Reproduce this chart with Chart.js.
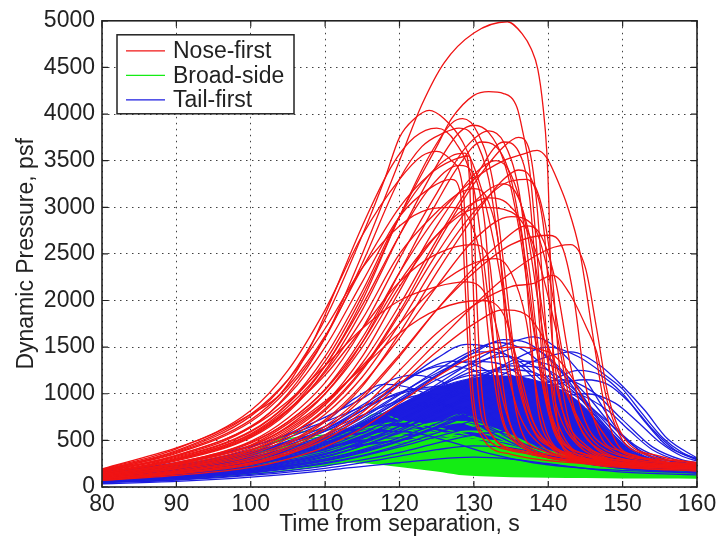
<!DOCTYPE html>
<html><head><meta charset="utf-8">
<script src="https://cdn.jsdelivr.net/npm/chart.js@4/dist/chart.umd.min.js"></script>
<style>html,body{margin:0;padding:0;background:#fff}#wrap{width:728px;height:540px}</style>
</head><body><div id="wrap"><canvas id="c" width="728" height="540"></canvas></div>
<script>
const xTicks = [80, 90, 100, 110, 120, 130, 140, 150, 160];
const yTicks = [0, 500, 1000, 1500, 2000, 2500, 3000, 3500, 4000, 4500, 5000];
const legendLabels = ['Nose-first', 'Broad-side', 'Tail-first'];
const xTitle = 'Time from separation, s';
const yTitle = 'Dynamic Pressure, psf';

// Nose-first trajectories: [time s, dynamic pressure psf]
const noseFirst = [
 [[80,170],[90,330],[100,640],[105,1000],[110,1600],[115,2500],[120,3500],[123,4100],[126,4550],[130,4870],[134.5,4990],[136.5,4860],[137.7,4700],[138.6,4480],[139.3,4080],[139.8,3600],[140.1,3000],[140.4,2000],[140.8,1100],[141.5,560],[142.8,350],[145,260],[150,210],[160,180]],
 [[80,150],[90,290],[100,540],[105,820],[110,1300],[115,2000],[120,2900],[125,3650],[127,3950],[130,4200],[132,4240],[134,4220],[135.8,4070],[136.6,3800],[137.5,3400],[138.5,2500],[139.5,1300],[141,600],[145,300],[150,220],[160,170]],
 [[80,185],[90,380],[100,760],[105,1150],[110,1800],[115,2700],[118,3300],[120,3750],[122,3950],[124,4040],[126,3950],[128.5,3700],[131,3200],[133,2500],[135,1600],[137,900],[140,450],[145,280],[150,230],[160,190]],
 [[80,130],[90,260],[100,480],[105,700],[110,1050],[115,1600],[120,2300],[125,2900],[130,3300],[134,3500],[136.6,3570],[138.5,3610],[139.8,3530],[141.6,3220],[142.5,3030],[144.2,2540],[146.3,1470],[147.5,900],[149,500],[152,330],[160,240]],
 [[80,140],[90,280],[100,530],[105,800],[110,1250],[115,1900],[120,2700],[125,3450],[128,3800],[130,3880],[132,3800],[134,3500],[136,2800],[138,1700],[140,800],[143,400],[150,250],[160,200]],
 [[80,175],[90,360],[100,700],[105,1050],[110,1600],[115,2400],[120,3300],[123,3650],[126,3800],[128,3850],[130,3750],[132,3300],[133.5,2500],[135,1500],[137,800],[140,450],[150,260],[160,210]],
 [[80,120],[90,240],[100,440],[105,650],[110,1000],[115,1550],[120,2300],[125,3050],[128,3450],[131,3700],[133,3650],[135,3300],[137,2400],[139,1200],[141,600],[145,350],[150,250],[160,200]],
 [[80,160],[90,320],[100,600],[105,900],[110,1400],[115,2100],[120,2900],[124,3350],[127,3550],[128.8,3580],[129.4,3300],[129.8,2400],[130.4,1200],[132,600],[137,380],[145,260],[160,190]],
 [[80,110],[90,220],[100,400],[105,600],[110,900],[115,1400],[120,2100],[125,2800],[130,3350],[133,3500],[135,3350],[137,2800],[139,1800],[141,900],[144,450],[150,280],[160,210]],
 [[80,165],[90,340],[100,650],[105,980],[110,1500],[115,2200],[120,2900],[124,3200],[127,3300],[128.2,3150],[128.8,2200],[129.5,1100],[131,550],[135,350],[145,250],[160,200]],
 [[80,100],[90,200],[100,370],[105,550],[110,820],[115,1250],[120,1850],[125,2500],[130,3050],[134,3250],[136,3100],[138,2500],[140,1500],[142,800],[145,450],[150,300],[160,220]],
 [[80,120],[90,250],[100,450],[105,680],[110,1000],[115,1500],[120,2150],[125,2700],[129,3000],[132,3100],[135,3000],[136.5,2700],[137.5,1800],[138.5,900],[140,500],[145,300],[160,200]],
 [[80,180],[90,390],[100,780],[105,1150],[110,1700],[115,2350],[120,2800],[124,2980],[127,3000],[129.5,2850],[131,2400],[132,1600],[133.5,800],[136,450],[145,280],[160,210]],
 [[80,90],[90,180],[100,330],[105,480],[110,720],[115,1100],[120,1600],[125,2150],[130,2650],[135,2900],[138,2800],[140,2300],[142,1400],[144,700],[147,400],[155,260],[160,230]],
 [[80,145],[90,300],[100,560],[105,830],[110,1200],[115,1700],[120,2200],[125,2500],[130,2600],[132,2450],[133,1700],[134.5,800],[137,420],[145,270],[160,200]],
 [[80,85],[90,170],[100,310],[105,460],[110,700],[115,1080],[120,1650],[125,2300],[130,2900],[134,3300],[136,3400],[138,3250],[139.5,2700],[140.5,1600],[142,800],[145,420],[150,280],[160,220]],
 [[80,75],[90,150],[100,260],[105,380],[110,560],[115,850],[120,1250],[125,1650],[130,1950],[135,2150],[137.9,2180],[140.6,2270],[142.9,2070],[145.2,1700],[146.5,1450],[148,900],[150,500],[153,350],[160,250]],
 [[80,130],[90,260],[100,490],[105,740],[110,1120],[115,1700],[120,2450],[125,3150],[129,3650],[132,3820],[134,3700],[136,3200],[137.5,2300],[139,1300],[141,650],[145,350],[160,200]],
 [[80,190],[90,410],[100,820],[105,1250],[110,1900],[115,2700],[120,3300],[123,3550],[125,3600],[127,3500],[128.6,3150],[129.2,2100],[129.9,1000],[131.5,550],[136,380],[145,260],[160,200]],
 [[80,140],[90,290],[100,550],[105,820],[110,1230],[115,1800],[120,2500],[125,2950],[128,3150],[130,3200],[132,3050],[133.5,2500],[134.5,1500],[136,700],[139,400],[150,260],[160,200]],
 [[80,80],[90,160],[100,280],[105,410],[110,620],[115,950],[120,1400],[125,1900],[130,2350],[134,2650],[137,2800],[139,2700],[141,2200],[143,1300],[145,700],[148,420],[155,280],[160,240]],
 [[80,110],[90,230],[100,420],[105,620],[110,900],[115,1300],[120,1750],[125,2150],[130,2400],[133,2450],[135,2300],[137,1800],[138.5,1000],[140,550],[143,350],[150,260],[160,210]],
 [[80,150],[90,310],[100,590],[105,890],[110,1350],[115,2050],[120,2900],[124,3550],[127,3900],[128.5,3950],[130.5,3800],[132.5,3300],[134,2400],[135.5,1400],[137.5,700],[141,400],[150,250],[160,200]],
 [[80,100],[90,195],[100,350],[105,520],[110,780],[115,1180],[120,1750],[125,2400],[130,2950],[134,3250],[137,3300],[139,3050],[140.5,2300],[141.5,1300],[143,650],[146,380],[152,270],[160,220]],
 [[80,165],[90,340],[100,640],[105,920],[110,1300],[115,1700],[120,2000],[125,2150],[129,2200],[132,2000],[134,1400],[136,800],[139,450],[145,290],[160,210]],
 [[80,105],[90,210],[100,390],[105,580],[110,880],[115,1330],[120,1950],[125,2650],[130,3300],[134,3700],[136,3600],[137.5,3100],[138.5,2100],[139.5,1100],[141,550],[145,330],[160,200]],
 [[80,72],[90,140],[100,240],[105,350],[110,510],[115,760],[120,1100],[125,1450],[130,1750],[134,1900],[137,1850],[140,1500],[143,900],[146,500],[150,330],[160,240]],
 [[80,195],[90,420],[95,570],[100,780],[104,1000],[108,1500],[110,1850],[115,2800],[119,3450],[122,3750],[125,3850],[127.5,3700],[130,3200],[131.5,2300],[133,1300],[135,650],[138,400],[145,270],[160,210]],
 [[80,85],[90,165],[100,290],[105,430],[110,650],[115,980],[120,1420],[125,1900],[130,2300],[135,2600],[140,2700],[142,2550],[143.5,2000],[145,1100],[147,550],[150,380],[160,260]],
 [[80,140],[90,300],[100,570],[105,860],[110,1300],[115,1950],[120,2700],[124,3200],[128,3450],[130,3350],[131.5,2800],[132.5,1700],[133.5,900],[135.5,500],[140,350],[150,240],[160,190]],
 [[80,70],[90,125],[100,210],[105,300],[110,430],[115,630],[120,900],[125,1180],[130,1400],[135,1500],[140,1450],[143,1200],[146,750],[149,420],[153,300],[160,230]],
 [[80,120],[90,245],[100,440],[105,640],[110,920],[115,1280],[120,1650],[125,1900],[131,2000],[134,1850],[136,1300],[138,700],[141,420],[148,280],[160,210]],
 [[80,125],[90,255],[100,470],[105,700],[110,1040],[115,1550],[120,2200],[125,2700],[131,3000],[135,2950],[138,2600],[141,1700],[143,900],[146,450],[150,300],[160,220]],
 [[80,170],[90,370],[100,720],[105,1080],[110,1620],[115,2350],[120,3000],[124,3350],[127,3500],[129.3,3550],[129.9,3200],[130.3,2200],[131,1100],[132.5,550],[137,360],[145,250],[160,200]],
 [[80,75],[90,145],[100,250],[105,360],[110,540],[115,800],[120,1150],[125,1550],[130,1950],[135,2300],[140,2550],[143,2600],[145,2350],[146.5,1700],[148,1000],[150,550],[155,330],[160,260]],
 [[80,100],[90,200],[100,370],[105,550],[110,840],[115,1270],[120,1880],[125,2600],[130,3250],[134,3650],[136,3750],[137.5,3600],[138.5,3000],[139.5,1900],[140.5,1000],[142,550],[146,330],[160,210]]
];

// Tail-first trajectories
const tailFirst = [
 [[80,90],[90,150],[100,260],[110,450],[115,620],[120,850],[125,1100],[130,1350],[135,1550],[138,1610],[141,1500],[145,1150],[149,650],[153,350],[157,250],[160,220]],
 [[80,120],[90,200],[100,340],[110,600],[115,820],[120,1100],[125,1380],[129,1530],[133,1480],[137,1250],[141,900],[145,550],[150,300],[155,220],[160,190]],
 [[80,75],[90,120],[100,200],[110,350],[115,480],[120,650],[125,870],[130,1120],[135,1350],[140,1500],[144,1400],[148,1180],[150,1050],[152.5,800],[155.5,520],[158,370],[160,300]],
 [[80,70],[90,110],[100,185],[110,320],[115,440],[120,600],[125,800],[130,1030],[135,1250],[140,1400],[143,1450],[147,1300],[150,1080],[153,820],[156,520],[160,310]],
 [[80,100],[90,170],[100,290],[110,510],[115,690],[120,920],[125,1150],[130,1330],[134,1400],[138,1300],[142,1000],[146,650],[150,380],[155,250],[160,210]],
 [[80,110],[90,180],[100,310],[110,540],[115,740],[120,990],[125,1250],[130,1470],[133,1550],[136,1500],[140,1250],[144,850],[148,480],[152,300],[160,200]],
 [[80,130],[90,215],[100,370],[110,650],[115,880],[120,1120],[126,1300],[130,1250],[135,1000],[140,650],[145,380],[150,260],[160,190]],
 [[80,95],[90,160],[100,270],[110,470],[115,640],[120,850],[125,1060],[131,1250],[135,1200],[140,950],[145,600],[150,350],[155,240],[160,200]],
 [[80,80],[90,130],[100,220],[110,380],[115,520],[120,700],[125,920],[130,1130],[137,1350],[141,1280],[145,1000],[149,620],[153,360],[160,230]],
 [[80,150],[90,250],[100,430],[105,570],[110,750],[115,950],[119,1150],[122,1200],[126,1120],[130,900],[135,600],[140,380],[145,260],[150,200],[160,170]],
 [[80,140],[90,230],[100,400],[105,530],[110,700],[114,950],[118,1100],[122,1050],[127,850],[132,600],[138,380],[145,250],[160,170]],
 [[80,60],[90,95],[100,155],[110,260],[115,340],[120,450],[125,580],[130,720],[135,850],[140,950],[145,1000],[149,900],[152,700],[155,480],[158,330],[160,280]],
 [[80,65],[90,100],[100,165],[110,280],[115,370],[120,490],[125,630],[130,790],[135,950],[140,1080],[145,1150],[148,1100],[151,900],[154,620],[157,400],[160,290]],
 [[80,105],[90,175],[100,300],[110,520],[115,710],[120,950],[125,1200],[131,1450],[135,1400],[139,1150],[143,780],[147,450],[151,290],[160,200]],
 [[80,85],[90,140],[100,240],[110,410],[115,550],[120,720],[125,900],[130,1060],[135,1170],[139,1200],[143,1050],[147,700],[151,400],[155,260],[160,210]],
 [[80,120],[90,190],[100,320],[110,530],[115,680],[120,830],[123,900],[127,850],[132,650],[137,430],[142,300],[150,220],[160,170]],
 [[80,125],[90,205],[100,355],[110,620],[115,850],[120,1100],[124,1280],[127,1350],[131,1280],[135,1050],[140,700],[145,420],[150,270],[160,190]],
 [[80,75],[90,125],[100,210],[110,360],[115,490],[120,650],[125,820],[130,980],[135,1100],[139,1050],[143,820],[147,520],[151,320],[160,210]],
 [[80,70],[90,110],[100,180],[110,300],[115,390],[120,500],[125,650],[130,800],[134,780],[138,620],[142,420],[147,280],[152,210],[160,170]],
 [[80,95],[90,155],[100,265],[110,460],[115,630],[120,840],[125,1070],[130,1300],[133,1420],[136,1500],[139,1450],[143,1150],[147,720],[151,400],[155,260],[160,210]],
 [[80,35],[90,60],[100,105],[110,175],[113,205],[120,260],[125,300],[130,320],[135,300],[140,250],[145,200],[150,160],[160,130]],
 [[80,45],[90,75],[100,125],[110,200],[115,260],[120,330],[125,400],[130,440],[135,420],[140,340],[145,260],[150,200],[160,150]],
 [[80,90],[90,150],[100,250],[105,320],[110,410],[115,530],[118,600],[122,580],[127,480],[132,360],[138,260],[145,200],[160,150]],
 [[80,110],[90,180],[100,300],[105,380],[110,480],[115,640],[120,800],[124,880],[128,860],[133,720],[138,520],[143,350],[148,250],[160,180]],
 [[80,100],[90,165],[100,285],[110,500],[115,690],[120,930],[125,1190],[130,1440],[134,1580],[137,1550],[141,1300],[145,900],[149,520],[153,320],[160,210]],
 [[80,70],[90,115],[100,190],[110,330],[115,440],[120,580],[125,740],[130,890],[135,1020],[140,1130],[142,1150],[146,1020],[150,720],[154,430],[158,290],[160,260]],
 [[80,55],[90,90],[100,150],[110,250],[115,330],[120,430],[125,540],[130,640],[135,690],[140,640],[145,480],[150,320],[155,230],[160,190]],
 [[80,160],[90,260],[100,440],[105,560],[110,700],[115,860],[120,1000],[125,1080],[129,1050],[133,900],[138,620],[143,400],[148,270],[160,180]],
 [[80,62],[90,100],[100,165],[110,285],[115,380],[120,500],[125,640],[130,800],[135,960],[140,1120],[144,1250],[147,1200],[150,1000],[153,700],[156,440],[160,300]],
 [[80,50],[90,80],[100,135],[110,225],[115,290],[120,370],[125,470],[130,560],[135,600],[140,560],[145,420],[150,290],[155,210],[160,170]],
 [[80,115],[90,190],[100,320],[110,560],[115,760],[120,1000],[125,1220],[129,1350],[133,1330],[137,1150],[141,850],[145,520],[150,300],[160,200]],
 [[80,85],[90,140],[100,235],[110,400],[115,540],[120,720],[125,930],[130,1150],[134,1260],[138,1230],[142,1000],[146,650],[150,380],[155,250],[160,210]],
 [[80,130],[90,210],[100,360],[110,620],[115,820],[118,950],[122,1050],[126,1050],[130,950],[135,720],[140,470],[145,300],[152,210],[160,170]],
 [[80,90],[90,145],[100,250],[110,430],[115,580],[120,770],[125,980],[130,1180],[135,1300],[139,1280],[143,1080],[147,750],[151,420],[155,270],[160,220]],
 [[80,75],[90,120],[100,205],[110,350],[115,470],[120,620],[125,790],[130,960],[135,1080],[140,1100],[144,960],[148,700],[152,430],[156,290],[160,240]],
 [[80,105],[90,170],[100,290],[110,500],[115,670],[120,880],[125,1080],[130,1200],[134,1180],[138,1000],[142,720],[146,450],[150,290],[160,190]],
 [[80,140],[90,225],[100,380],[105,480],[110,600],[115,770],[120,930],[124,1000],[128,970],[132,850],[137,620],[142,400],[148,260],[160,170]],
 [[80,65],[90,105],[100,175],[110,300],[115,400],[120,530],[125,680],[130,840],[135,980],[140,1050],[144,1000],[148,820],[151,600],[154,400],[158,270],[160,240]]
];

// Broad-side trajectories
const broadSide = [
 [[80,110],[90,180],[100,300],[105,400],[110,520],[114,650],[117,790],[120,720],[125,600],[130,500],[135,380],[140,280],[150,200],[160,160]],
 [[80,120],[90,200],[100,360],[103,480],[105,560],[108,600],[112,620],[116,640],[120,600],[125,520],[130,420],[140,270],[150,200],[160,160]],
 [[80,80],[90,130],[100,210],[110,330],[115,410],[120,500],[124,620],[127,750],[128.5,780],[130,740],[133,600],[137,430],[142,300],[150,210],[160,170]],
 [[80,90],[90,145],[100,240],[110,380],[115,470],[120,560],[125,640],[128,690],[131,640],[135,500],[140,350],[148,240],[160,170]],
 [[80,100],[90,160],[100,270],[105,350],[110,450],[115,560],[118,640],[122,600],[127,560],[132,500],[137,380],[143,270],[152,200],[160,160]],
 [[80,70],[90,115],[100,190],[110,300],[115,370],[120,450],[125,540],[130,600],[134,560],[138,440],[143,320],[150,230],[160,170]],
 [[80,130],[90,210],[100,340],[105,430],[110,500],[115,560],[120,580],[125,560],[130,480],[135,380],[140,300],[150,220],[160,170]],
 [[80,60],[90,95],[100,160],[110,260],[115,320],[120,390],[125,460],[130,510],[135,470],[140,360],[145,270],[155,190],[160,170]],
 [[80,95],[90,155],[100,250],[105,320],[110,400],[115,480],[119,560],[123,520],[128,470],[133,400],[140,290],[150,200],[160,150]],
 [[80,140],[90,220],[100,360],[105,450],[108,520],[112,540],[117,560],[121,620],[124,680],[127,710],[130,650],[134,520],[140,360],[150,230],[160,170]],
 [[80,75],[90,120],[100,200],[110,320],[115,400],[120,480],[125,560],[129,600],[132,560],[136,440],[142,300],[150,210],[160,160]],
 [[80,115],[90,185],[100,300],[105,380],[110,460],[115,520],[120,540],[125,530],[130,490],[135,420],[140,330],[150,230],[160,180]],
 [[80,50],[90,85],[100,140],[110,230],[115,290],[120,360],[125,430],[130,470],[135,430],[140,330],[148,230],[160,160]],
 [[80,105],[90,170],[100,280],[105,360],[110,440],[115,530],[120,620],[125,680],[129,700],[133,620],[138,450],[144,300],[152,210],[160,170]],
 [[80,125],[90,195],[100,320],[105,400],[110,470],[115,520],[120,500],[125,450],[130,400],[135,340],[140,270],[150,200],[160,160]],
 [[80,85],[90,140],[100,230],[105,290],[110,360],[115,430],[120,480],[125,500],[130,460],[135,380],[140,300],[150,210],[160,160]],
 [[80,145],[90,235],[100,390],[103,470],[106,530],[110,560],[114,600],[118,680],[121,700],[125,640],[130,540],[135,420],[142,300],[152,210],[160,170]],
 [[80,65],[90,105],[100,175],[110,280],[115,350],[120,420],[125,470],[130,440],[135,360],[140,290],[150,210],[160,160]],
 [[80,100],[90,165],[100,275],[105,340],[110,410],[115,470],[120,520],[125,560],[130,530],[135,440],[140,340],[150,230],[160,170]],
 [[80,135],[90,215],[100,350],[105,440],[110,530],[115,600],[118,650],[122,620],[126,560],[130,480],[136,360],[145,250],[160,170]]
];

// Dense cores of the Broad-side and Tail-first bundles (upper and lower envelopes)
const greenBandTime  = [80, 90, 100, 105, 110, 113, 116, 120, 125, 128, 131, 135, 140, 145, 150, 155, 160];
const greenBandUpper = [150, 210, 290, 330, 380, 410, 430, 460, 510, 530, 490, 400, 300, 240, 200, 175, 165];
const greenBandLower = [60, 100, 155, 190, 230, 262, 250, 215, 165, 130, 115, 105, 100, 96, 92, 90, 88];
const blueBandTime  = [104, 108, 112, 115, 118, 120, 125, 130, 135, 138, 140, 143, 145, 147, 150, 153, 156, 160];
const blueBandUpper = [330, 430, 560, 680, 800, 880, 1060, 1170, 1190, 1150, 1100, 980, 850, 680, 450, 300, 230, 200];
const blueBandLower = [330, 320, 330, 335, 340, 350, 360, 330, 290, 250, 220, 190, 180, 165, 150, 145, 140, 130];

const RED = '#f01414', GREEN = '#14ec14', BLUE = '#1c1ce0';
const legendColors = [RED, GREEN, BLUE];
const FONT = '"Liberation Sans", Arial, Helvetica, sans-serif';

const toPts = c => c.map(p => ({x: p[0], y: p[1]}));
const base = {pointRadius: 0, borderWidth: 1.3, fill: false, cubicInterpolationMode: 'monotone'};
const datasets = [];
noseFirst.forEach(c => datasets.push({...base, data: toPts(c), borderColor: RED}));
tailFirst.forEach(c => datasets.push({...base, data: toPts(c), borderColor: BLUE}));
broadSide.forEach(c => datasets.push({...base, data: toPts(c), borderColor: GREEN}));
const gLow = datasets.length;
datasets.push({...base, borderWidth: 0, data: greenBandTime.map((t, i) => ({x: t, y: greenBandLower[i]})), borderColor: GREEN});
datasets.push({...base, borderWidth: 1, data: greenBandTime.map((t, i) => ({x: t, y: greenBandUpper[i]})), borderColor: GREEN, backgroundColor: GREEN, fill: {target: gLow}});
const bLow = datasets.length;
datasets.push({...base, borderWidth: 0, data: blueBandTime.map((t, i) => ({x: t, y: blueBandLower[i]})), borderColor: BLUE});
datasets.push({...base, borderWidth: 1, data: blueBandTime.map((t, i) => ({x: t, y: blueBandUpper[i]})), borderColor: BLUE, backgroundColor: BLUE, fill: {target: bLow}});

const frame = {
  id: 'frame',
  afterDatasetsDraw(chart) {
    const {ctx, chartArea: a, scales: {x, y}} = chart;
    ctx.save();
    ctx.strokeStyle = '#222';
    ctx.lineWidth = 1.2;
    const L = 6;
    ctx.beginPath();
    xTicks.forEach(v => { const px = x.getPixelForValue(v); ctx.moveTo(px, a.bottom); ctx.lineTo(px, a.bottom - L); ctx.moveTo(px, a.top); ctx.lineTo(px, a.top + L); });
    yTicks.forEach(v => { const py = y.getPixelForValue(v); ctx.moveTo(a.left, py); ctx.lineTo(a.left + L, py); ctx.moveTo(a.right, py); ctx.lineTo(a.right - L, py); });
    ctx.stroke();
    ctx.lineWidth = 1.6;
    ctx.strokeRect(a.left, a.top, a.right - a.left, a.bottom - a.top);
    // legend
    const bx = a.left + 15, by = a.top + 14, bw = 177, bh = 79;
    ctx.fillStyle = '#fff';
    ctx.fillRect(bx, by, bw, bh);
    ctx.lineWidth = 1.5;
    ctx.strokeRect(bx, by, bw, bh);
    ctx.font = '23px ' + FONT;
    ctx.textBaseline = 'middle';
    legendLabels.forEach((lab, i) => {
      const ly = by + 16 + i * 24.5;
      ctx.strokeStyle = legendColors[i];
      ctx.lineWidth = 1.3;
      ctx.beginPath(); ctx.moveTo(bx + 9, ly); ctx.lineTo(bx + 48, ly); ctx.stroke();
      ctx.fillStyle = '#222';
      ctx.fillText(lab, bx + 56, ly + 1);
    });
    ctx.restore();
  }
};

new Chart(document.getElementById('c'), {
  type: 'line',
  data: {datasets},
  options: {
    responsive: false, animation: false, devicePixelRatio: 1,
    layout: {padding: {left: 0, right: 31, top: 20, bottom: 0}},
    plugins: {legend: {display: false}, tooltip: {enabled: false}},
    elements: {line: {tension: 0.3}},
    scales: {
      x: {
        type: 'linear', min: 80, max: 160,
        afterBuildTicks: s => { s.ticks = xTicks.map(v => ({value: v})); },
        ticks: {callback: v => String(v), font: {size: 23, family: FONT}, color: '#222', padding: 4, maxRotation: 0, autoSkip: false},
        grid: {color: 'rgba(0,0,0,0.75)', lineWidth: 1, drawTicks: false},
        border: {display: false, dash: [1.5, 4.5]},
        title: {display: true, text: xTitle, font: {size: 23, family: FONT}, color: '#222', padding: {top: 0, bottom: 2}},
        afterFit: s => { s.height = 53; }
      },
      y: {
        type: 'linear', min: 0, max: 5000,
        afterBuildTicks: s => { s.ticks = yTicks.map(v => ({value: v})); },
        ticks: {callback: v => String(v), font: {size: 23, family: FONT}, color: '#222', padding: 7, autoSkip: false},
        grid: {color: 'rgba(0,0,0,0.75)', lineWidth: 1, drawTicks: false},
        border: {display: false, dash: [1.5, 4.5]},
        title: {display: true, text: yTitle, font: {size: 23, family: FONT}, color: '#222', padding: {top: 13, bottom: 0}},
        afterFit: s => { s.width = 102; }
      }
    }
  },
  plugins: [frame]
});
</script></body></html>
